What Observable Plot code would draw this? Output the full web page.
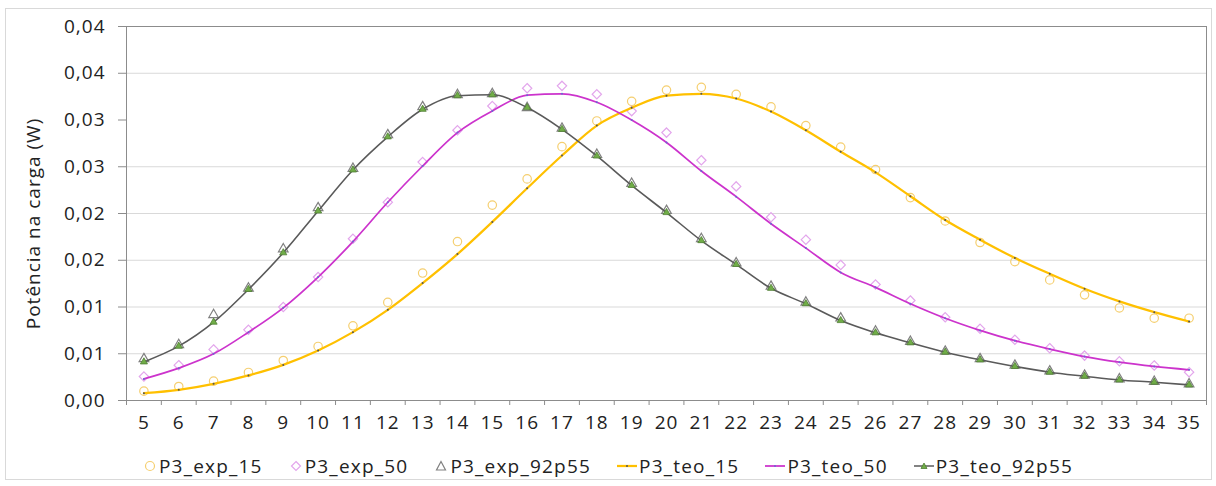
<!DOCTYPE html>
<html><head><meta charset="utf-8">
<script src="https://cdn.jsdelivr.net/npm/d3@7"></script>
<script src="https://cdn.jsdelivr.net/npm/@observablehq/plot@0.6"></script>
<style>
body{margin:0;background:#fff;font-family:"Open Sans",sans-serif;}
#frame{position:absolute;left:5px;top:8px;width:1207px;height:472px;border:1px solid #d9d9d9;box-sizing:border-box;}
#chart{position:absolute;left:0;top:0;}
#chart svg text{letter-spacing:1px;}
#legend{position:absolute;left:0;top:450px;width:1216px;height:32px;display:flex;justify-content:center;align-items:center;font-size:19px;letter-spacing:1.2px;color:#222;}
.item{display:flex;align-items:center;margin:0 13px;}
.item svg{margin-right:2px;}
</style></head><body>
<div id="frame"></div><div id="chart"></div><div id="legend"></div>
<script>
const cats = [5,6,7,8,9,10,11,12,13,14,15,16,17,18,19,20,21,22,23,24,25,26,27,28,29,30,31,32,33,34,35];
const exp15 = [0.00100,0.00150,0.00207,0.00300,0.00428,0.00578,0.00799,0.01049,0.01363,0.01700,0.02090,0.02370,0.02715,0.02990,0.03200,0.03320,0.03350,0.03275,0.03140,0.02940,0.02710,0.02470,0.02170,0.01920,0.01690,0.01485,0.01290,0.01130,0.00990,0.00880,0.00880];
const exp50 = [0.00257,0.00378,0.00546,0.00756,0.00999,0.01320,0.01730,0.02120,0.02550,0.02890,0.03150,0.03340,0.03365,0.03275,0.03095,0.02865,0.02570,0.02290,0.01960,0.01720,0.01450,0.01240,0.01070,0.00890,0.00767,0.00650,0.00560,0.00480,0.00420,0.00375,0.00303];
const exp92p55 = [0.00445,0.00595,0.00917,0.01200,0.01620,0.02060,0.02480,0.02840,0.03140,0.03270,0.03280,0.03130,0.02910,0.02630,0.02320,0.02030,0.01730,0.01470,0.01220,0.01050,0.00880,0.00740,0.00630,0.00525,0.00445,0.00375,0.00314,0.00268,0.00230,0.00203,0.00175];
const teo15 = [0.00078,0.00114,0.00178,0.00268,0.00381,0.00535,0.00731,0.00970,0.01256,0.01566,0.01910,0.02270,0.02620,0.02940,0.03130,0.03260,0.03280,0.03230,0.03090,0.02890,0.02660,0.02440,0.02185,0.01930,0.01720,0.01525,0.01355,0.01195,0.01060,0.00945,0.00845];
const teo50 = [0.00231,0.00346,0.00499,0.00731,0.00991,0.01320,0.01700,0.02120,0.02508,0.02865,0.03097,0.03265,0.03280,0.03190,0.03000,0.02760,0.02455,0.02180,0.01890,0.01630,0.01370,0.01210,0.01035,0.00880,0.00750,0.00640,0.00550,0.00470,0.00410,0.00364,0.00328];
const teo92p55 = [0.00413,0.00581,0.00838,0.01188,0.01580,0.02027,0.02466,0.02820,0.03115,0.03260,0.03270,0.03133,0.02900,0.02615,0.02300,0.02010,0.01710,0.01455,0.01200,0.01035,0.00855,0.00724,0.00617,0.00517,0.00435,0.00364,0.00303,0.00260,0.00220,0.00196,0.00167];
const seriesNames = ["P3_exp_15","P3_exp_50","P3_exp_92p55","P3_teo_15","P3_teo_50","P3_teo_92p55"];
const yTicks = [0,0.005,0.01,0.015,0.02,0.025,0.03,0.035,0.04];
const gridTicks = [0.005,0.01,0.015,0.02,0.025,0.035];
const yTitle = "Potência na carga (W)";

const tbl = arr => cats.map((c,i)=>({x:c, y:arr[i]}));
const fmt = d => (Math.round(d*100 + 1e-9)/100).toFixed(2).replace(".", ",");
const bounds = cats.map(c=>c-0.5).concat([cats[cats.length-1]+0.5]);
const axisCol = "#8c8c8c";
const C = {e15:"#f5cf70", e50:"#e3a6ec", e92:"#808080", t15:"#ffc000", t50:"#cc33cc", t92:"#5a5a5a", g:"#70ad47", gs:"#4f7d33"};
const curve = "monotone-x";

const chart = Plot.plot({
  width:1216, height:440, marginLeft:126, marginRight:10, marginTop:26, marginBottom:40,
  style:{fontFamily:"Open Sans", fontSize:"19px", color:"#222", background:"transparent"},
  x:{domain:[bounds[0], bounds[bounds.length-1]], label:null},
  y:{domain:[0,0.04], label:null},
  marks:[
    Plot.ruleY(gridTicks,{stroke:"#d9d9d9"}),
    Plot.ruleY([0.04],{stroke:axisCol}),
    Plot.ruleX([bounds[bounds.length-1]],{stroke:axisCol}),
    Plot.ruleX([bounds[0]],{stroke:axisCol}),
    Plot.ruleY([0],{stroke:axisCol}),
    Plot.axisY({ticks:yTicks, tickFormat:fmt, tickSize:8, tickPadding:13, stroke:axisCol, label:null}),
    Plot.axisX({ticks:cats, tickSize:0, tickPadding:15, tickFormat:d=>String(d), label:null}),
    Plot.axisX({ticks:bounds, tickSize:5, tickFormat:()=>"", stroke:axisCol, label:null}),
    Plot.text([yTitle],{frameAnchor:"left", textAnchor:"middle", lineAnchor:"middle", rotate:-90, dx:-93, dy:10, fontSize:19, fill:"#222"}),
    Plot.dot(tbl(exp15),{x:"x", y:"y", r:4.2, stroke:C.e15, fill:"none", strokeWidth:1.2}),
    Plot.dot(tbl(exp50),{x:"x", y:"y", symbol:"diamond2", r:4.2, stroke:C.e50, fill:"none", strokeWidth:1.2}),
    Plot.dot(tbl(exp92p55),{x:"x", y:"y", symbol:"triangle2", r:4.6, stroke:C.e92, fill:"none", strokeWidth:1.2}),
    Plot.line(tbl(teo15),{x:"x", y:"y", stroke:C.t15, strokeWidth:2.25, curve}),
    Plot.dot(tbl(teo15),{x:"x", y:"y", r:1, fill:"#555", stroke:null}),
    Plot.line(tbl(teo50),{x:"x", y:"y", stroke:C.t50, strokeWidth:1.75, curve}),
    Plot.dot(tbl(teo50),{x:"x", y:"y", r:1, fill:"#6a6ad0", stroke:null}),
    Plot.line(tbl(teo92p55),{x:"x", y:"y", stroke:C.t92, strokeWidth:1.6, curve}),
    Plot.dot(tbl(teo92p55),{x:"x", y:"y", symbol:"triangle2", r:3.4, fill:C.g, stroke:C.gs, strokeWidth:0.8})
  ]
});
document.getElementById("chart").appendChild(chart);

// legend
const sw = [
  `<svg width="14" height="14"><circle cx="7" cy="7" r="4.5" fill="none" stroke="${C.e15}" stroke-width="1.2"/></svg>`,
  `<svg width="14" height="14"><path d="M7 2.5L11.5 7L7 11.5L2.5 7Z" fill="none" stroke="${C.e50}" stroke-width="1.2"/></svg>`,
  `<svg width="14" height="14"><path d="M7 2.5L11.5 11L2.5 11Z" fill="none" stroke="${C.e92}" stroke-width="1.2"/></svg>`,
  `<svg width="20" height="14"><line x1="0" y1="7" x2="20" y2="7" stroke="${C.t15}" stroke-width="2.25"/><circle cx="10" cy="7" r="1" fill="#555"/></svg>`,
  `<svg width="20" height="14"><line x1="0" y1="7" x2="20" y2="7" stroke="${C.t50}" stroke-width="1.75"/><circle cx="10" cy="7" r="1" fill="#6a6ad0"/></svg>`,
  `<svg width="20" height="14"><line x1="0" y1="7" x2="20" y2="7" stroke="${C.t92}" stroke-width="1.5"/><path d="M10 4L13 9.5L7 9.5Z" fill="${C.g}" stroke="${C.gs}" stroke-width="0.8"/></svg>`
];
const lg = document.getElementById("legend");
seriesNames.forEach((n,i)=>{
  const d = document.createElement("div");
  d.className = "item";
  d.innerHTML = sw[i] + `<span>${n}</span>`;
  lg.appendChild(d);
});
</script></body></html>
